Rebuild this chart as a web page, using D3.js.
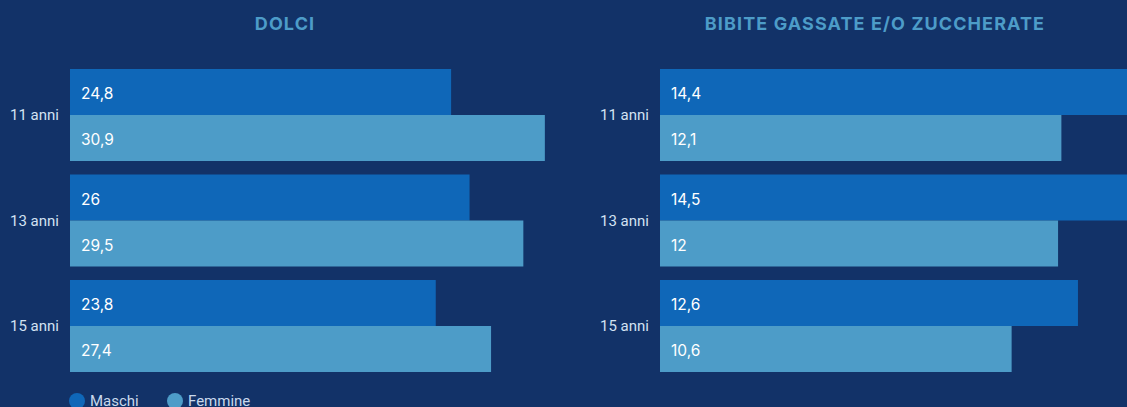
<!DOCTYPE html>
<html>
<head>
<meta charset="utf-8">
<script src="https://cdn.jsdelivr.net/npm/d3@7"></script>
<style>
  html, body { margin: 0; padding: 0; background: #123268; overflow: hidden; }
  svg { display: block; }
</style>
</head>
<body>
<svg id="chart" width="1127" height="407"></svg>
<script>
const categories = ["11 anni", "13 anni", "15 anni"];
const seriesNames = ["Maschi", "Femmine"];
const dolciMaschi = [24.8, 26, 23.8];
const dolciFemmine = [30.9, 29.5, 27.4];
const bibiteMaschi = [14.4, 14.5, 12.6];
const bibiteFemmine = [12.1, 12, 10.6];
const panelTitles = ["DOLCI", "BIBITE GASSATE E/O ZUCCHERATE"];

const colors = { Maschi: "#0f67b8", Femmine: "#4d9cc8" };
const W = 1127, H = 407;
const svg = d3.select("#chart");
svg.append("rect").attr("width", W).attr("height", H).attr("fill", "#123268");

const panels = [
  { title: panelTitles[0], titleX: 285, x0: 70, x1: 551, dmax: 31.3,
    data: categories.map((c, i) => ({ cat: c, Maschi: dolciMaschi[i], Femmine: dolciFemmine[i] })) },
  { title: panelTitles[1], titleX: 875, x0: 660, x1: 1141, dmax: 14.5,
    data: categories.map((c, i) => ({ cat: c, Maschi: bibiteMaschi[i], Femmine: bibiteFemmine[i] })) }
];

const y = d3.scaleBand().domain(categories).range([69, 372]).paddingInner(0.128).paddingOuter(0);
const ySub = d3.scaleBand().domain(seriesNames).range([0, y.bandwidth()]).padding(0);
const fmt = v => String(v).replace(".", ",");

panels.forEach(p => {
  const x = d3.scaleLinear().domain([0, p.dmax]).range([p.x0, p.x1]);
  const g = svg.append("g");
  g.append("text")
    .attr("x", p.titleX).attr("y", 30)
    .attr("text-anchor", "middle")
    .attr("font-family", "Inter, Roboto, sans-serif")
    .attr("font-weight", 700)
    .attr("font-size", 18)
    .attr("letter-spacing", 1.1)
    .attr("fill", "#4d9cc8")
    .text(p.title);

  const grp = g.selectAll("g.cat").data(p.data).join("g")
    .attr("class", "cat")
    .attr("transform", d => `translate(0,${y(d.cat)})`);

  grp.append("text")
    .attr("x", p.x0 - 11)
    .attr("y", y.bandwidth() / 2)
    .attr("dy", "0.35em")
    .attr("text-anchor", "end")
    .attr("font-family", "Roboto, sans-serif")
    .attr("font-size", 15)
    .attr("fill", "#d3e2f2")
    .text(d => d.cat);

  seriesNames.forEach(s => {
    grp.append("rect")
      .attr("x", x(0))
      .attr("y", ySub(s))
      .attr("width", d => x(d[s]) - x(0))
      .attr("height", ySub.bandwidth())
      .attr("fill", colors[s]);
    grp.append("text")
      .attr("x", x(0) + 11)
      .attr("y", ySub(s) + ySub.bandwidth() / 2 + 2)
      .attr("dy", "0.35em")
      .attr("font-family", "Inter, Roboto, sans-serif")
      .attr("font-size", 15.5)
      .attr("fill", "#ffffff")
      .text(d => fmt(d[s]));
  });
});

// legend
const legend = svg.append("g");
const legendX = [77, 175];
seriesNames.forEach((s, i) => {
  legend.append("circle").attr("cx", legendX[i]).attr("cy", 401).attr("r", 8).attr("fill", colors[s]);
  legend.append("text")
    .attr("x", legendX[i] + 13).attr("y", 406)
    .attr("font-family", "Roboto, sans-serif")
    .attr("font-size", 15)
    .attr("fill", "#c9d9ec")
    .text(s);
});
</script>
</body>
</html>
